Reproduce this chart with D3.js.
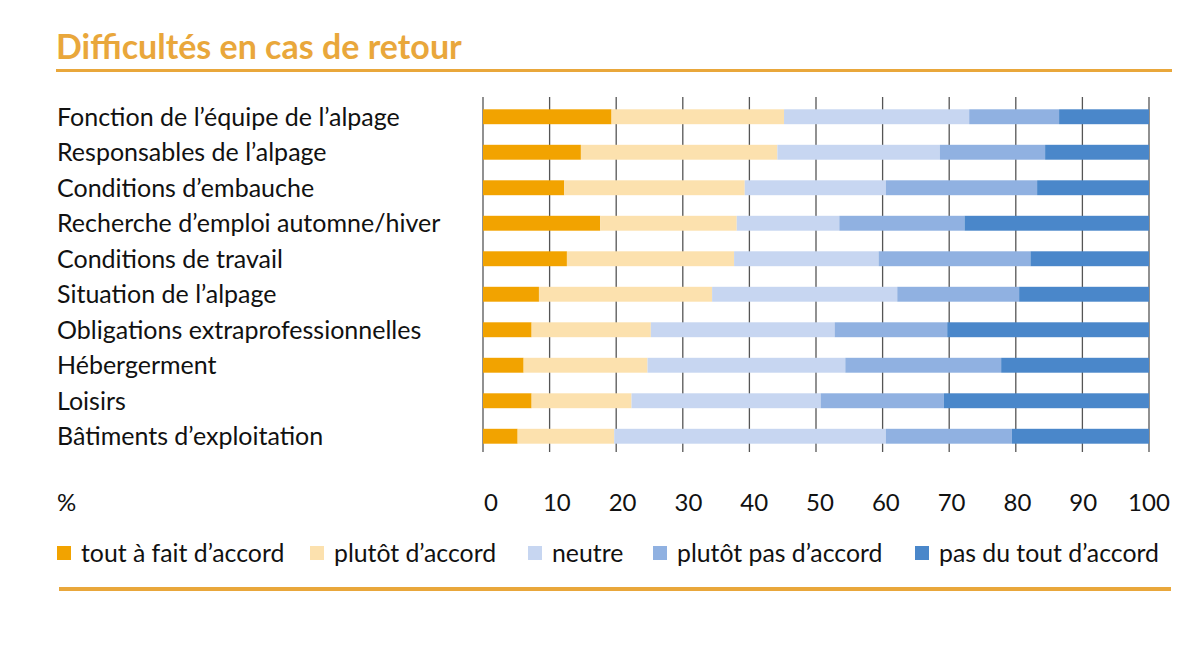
<!DOCTYPE html>
<html><head><meta charset="utf-8">
<script src="https://cdn.jsdelivr.net/npm/d3@7"></script>
<style>body{margin:0;background:#fff}svg{display:block}text{font-family:Lato,"Noto Sans",sans-serif}</style>
</head><body><svg id="c" width="1200" height="648"></svg>
<script>
const categories = ["Fonction de l’équipe de l’alpage","Responsables de l’alpage","Conditions d’embauche","Recherche d’emploi automne/hiver","Conditions de travail","Situation de l’alpage","Obligations extraprofessionnelles","Hébergerment","Loisirs","Bâtiments d’exploitation"];
const seriesNames = ["tout à fait d’accord","plutôt d’accord","neutre","plutôt pas d’accord","pas du tout d’accord"];
const toutAFait   = [19.3,14.7,12.2,17.6,12.6, 8.4, 7.3, 6.1, 7.3, 5.2];
const plutot      = [25.9,29.5,27.1,20.5,25.1,26.0,17.9,18.6,15.0,14.5];
const neutre      = [27.8,24.4,21.2,15.4,21.7,27.8,27.6,29.7,28.4,40.8];
const plutotPas   = [13.5,15.8,22.7,18.8,22.8,18.3,16.9,23.4,18.5,18.9];
const pasDuTout   = [13.5,15.6,16.8,27.7,17.8,19.5,30.3,22.2,30.8,20.6];
const tickValues  = [0,10,20,30,40,50,60,70,80,90,100];
const colors = ["#F2A300","#FCE1AE","#C7D6F1","#90B1E1","#4A87CA"];

const svg = d3.select("#c");
const seriesVals = [toutAFait, plutot, neutre, plutotPas, pasDuTout];
const data = categories.map((c,i)=>{const o={cat:c}; seriesNames.forEach((s,j)=>o[s]=seriesVals[j][i]); return o;});
const stack = d3.stack().keys(seriesNames)(data);

const x = d3.scaleLinear().domain([0,100]).range([483,1149]);
const xl = d3.scaleLinear().domain([0,100]).range([491,1149]);
const y = d3.scaleBand().domain(categories).range([99,454]).paddingInner(0.58).paddingOuter(0.29);

// title
svg.append("text").attr("x",56).attr("y",59).attr("font-size",34).attr("font-weight",700).attr("fill","#E9A73B").text("Difficultés en cas de retour");
svg.append("rect").attr("x",56).attr("y",69).attr("width",1116).attr("height",3).attr("fill","#E9A73B");

// gridlines
svg.append("g").selectAll("line").data(tickValues).join("line")
  .attr("x1",d=>x(d)).attr("x2",d=>x(d)).attr("y1",97).attr("y2",452)
  .attr("stroke","#555").attr("stroke-width",1.3);

// bars
svg.append("g").selectAll("g").data(stack).join("g").attr("fill",(d,i)=>colors[i])
  .selectAll("rect").data(d=>d).join("rect")
  .attr("x",d=>x(d[0])).attr("width",d=>x(d[1])-x(d[0]))
  .attr("y",d=>y(d.data.cat)).attr("height",y.bandwidth());

// category labels
svg.append("g").selectAll("text").data(categories).join("text")
  .attr("x",57).attr("y",d=>y(d)+y.bandwidth()/2).attr("dy","0.35em")
  .attr("font-size",25).attr("fill","#111").text(d=>d);

// axis labels
svg.append("g").selectAll("text").data(tickValues).join("text")
  .attr("x",d=>xl(d)).attr("y",503).attr("dy","0.35em").attr("text-anchor","middle")
  .attr("font-size",24).attr("fill","#111").text(d=>d);
svg.append("text").attr("x",57).attr("y",503).attr("dy","0.35em").attr("font-size",24).attr("fill","#111").text("%");

// legend
const legX = [57,310,528,653,915];
const lg = svg.append("g").selectAll("g").data(seriesNames).join("g").attr("transform",(d,i)=>`translate(${legX[i]},546)`);
lg.append("rect").attr("width",14).attr("height",14).attr("fill",(d,i)=>colors[i]);
lg.append("text").attr("x",24).attr("y",7).attr("dy","0.35em").attr("font-size",24.8).attr("fill","#111").text(d=>d);

svg.append("rect").attr("x",59).attr("y",587).attr("width",1112).attr("height",4).attr("fill","#E9A73B");
</script></body></html>
